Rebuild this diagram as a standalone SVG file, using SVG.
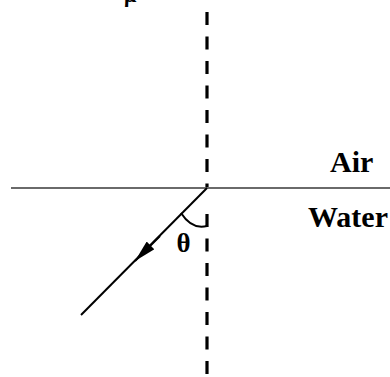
<svg xmlns="http://www.w3.org/2000/svg" width="390" height="377" viewBox="0 0 390 377">
<style>
.lbl{font-family:"Liberation Serif","Times New Roman",serif;font-weight:bold;fill:#000}
.dash{stroke:#000;stroke-width:3.2;stroke-dasharray:13 11.5;fill:none}
</style>
<defs>
<marker id="ah" viewBox="0 0 22 11" refX="22" refY="5.5" markerWidth="22" markerHeight="11" markerUnits="userSpaceOnUse" orient="auto">
<path d="M0,0 L22,5.5 L0,11 z" fill="#000"/>
</marker>
</defs>
<rect width="390" height="377" fill="#fff"/>
<g id="normal">
<line class="dash" x1="207" y1="12" x2="207" y2="188"/>
<line class="dash" x1="207" y1="214" x2="207" y2="377"/>
</g>
<g id="interface">
<line x1="11" y1="188" x2="390" y2="188" stroke="#6a6a6a" stroke-width="2"/>
</g>
<g id="connectors">
<line x1="207" y1="188" x2="81" y2="315" stroke="#000" stroke-width="2"/>
<line x1="160" y1="236" x2="135" y2="261" stroke="#000" stroke-width="2" marker-end="url(#ah)"/>
<path d="M181,213 Q192,230 207,226" fill="none" stroke="#000" stroke-width="2"/>
</g>
<g id="labels">
<text class="lbl" x="124" y="2" font-size="22" font-weight="normal">μ</text>
<text class="lbl" x="330" y="172" font-size="30">Air</text>
<text class="lbl" x="308" y="227" font-size="30">Water</text>
<text class="lbl" x="183.5" y="252" font-size="27" text-anchor="middle">θ</text>
</g>
</svg>
